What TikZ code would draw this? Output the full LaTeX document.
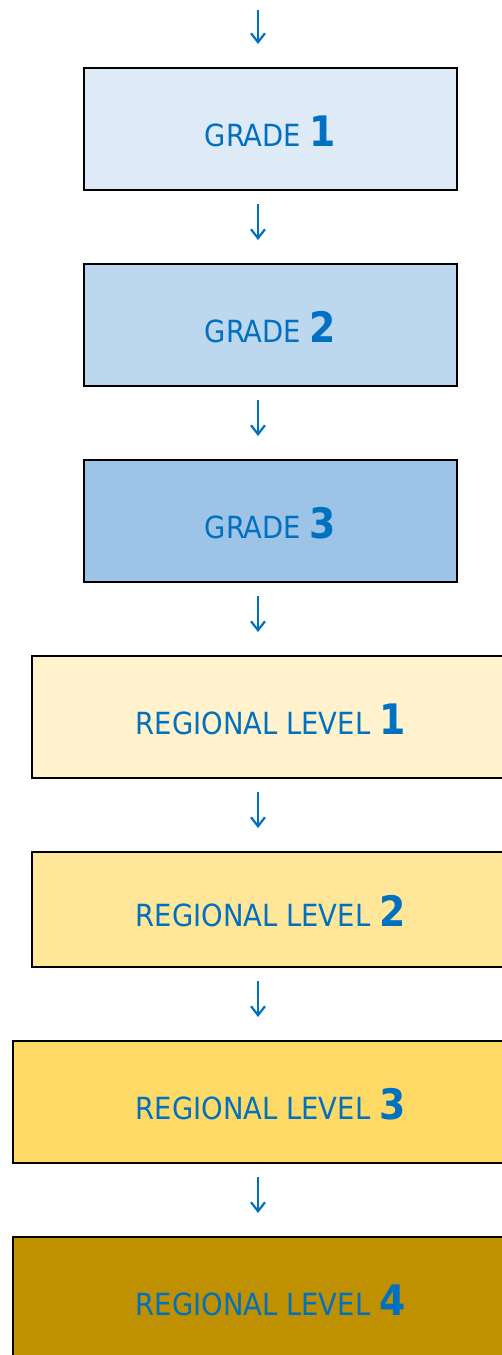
\documentclass[tikz,border=0pt]{standalone}
\usepackage{fontspec}
\setmainfont[FakeStretch=0.9]{DejaVu Sans}
\usetikzlibrary{positioning,arrows.meta}
\definecolor{lvltext}{RGB}{0,112,192}
\definecolor{gradeA}{RGB}{222,235,247}
\definecolor{gradeB}{RGB}{189,215,238}
\definecolor{gradeC}{RGB}{157,195,230}
\definecolor{regionA}{RGB}{255,242,204}
\definecolor{regionB}{RGB}{255,230,153}
\definecolor{regionC}{RGB}{255,217,102}
\definecolor{regionD}{RGB}{191,144,0}
% label: word in regular, number in large bold
\newcommand{\lvl}[2]{{\fontsize{30.5}{30}\selectfont #1 }{\fontsize{42}{40}\selectfont\bfseries #2}}

\begin{document}
\begin{tikzpicture}[x=1pt,y=-1pt,node distance=74pt,
    lvlbox/.style={draw=black,line width=2pt,outer sep=0pt,text=lvltext,minimum height=122pt,
        text height=34pt,text depth=0pt,inner sep=0pt},
    flow/.style={lvltext,line width=2.2pt,-{Straight Barb[length=9pt,width=14pt]}}]
    \useasboundingbox (0,0) rectangle (502,1355);
    \clip (0,0) rectangle (502,1355);
    % grades
    \node[lvlbox,fill=gradeA,minimum width=373pt] (g1) at (270.5,129) {\lvl{GRADE}{1}};
    \node[lvlbox,fill=gradeB,minimum width=373pt,below=of g1] (g2) {\lvl{GRADE}{2}};
    \node[lvlbox,fill=gradeC,minimum width=373pt,below=of g2] (g3) {\lvl{GRADE}{3}};
    % regional levels
    \node[lvlbox,fill=regionA,minimum width=478pt,below=of g3] (r1) {\lvl{REGIONAL LEVEL}{1}};
    \node[lvlbox,fill=regionB,minimum width=478pt,minimum height=115pt,below=of r1] (r2) {\lvl{REGIONAL LEVEL}{2}};
    \node[lvlbox,fill=regionC,minimum width=516pt,below=of r2] (r3) {\lvl{REGIONAL LEVEL}{3}};
    \node[lvlbox,fill=regionD,minimum width=516pt,below=of r3] (r4) {\lvl{REGIONAL LEVEL}{4}};
    % arrows
    \coordinate (start) at (258,10);
    \draw[flow] (start) -- ([xshift=-12.5pt,yshift=24pt]g1.north);
    \foreach \a/\b in {g1/g2,g2/g3,g3/r1,r1/r2,r2/r3,r3/r4}
        \draw[flow] ([xshift=-12.5pt,yshift=-14pt]\a.south) -- ([xshift=-12.5pt,yshift=24pt]\b.north);
\end{tikzpicture}
\end{document}
